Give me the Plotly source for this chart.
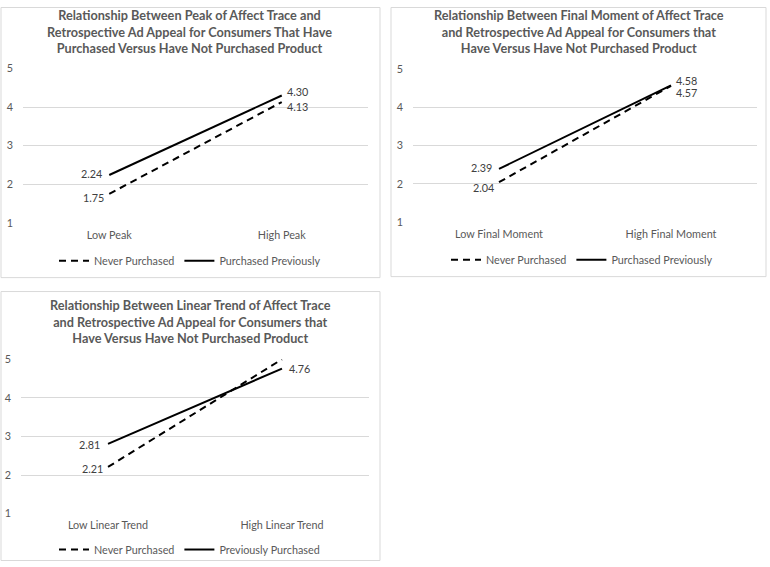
import plotly.graph_objects as go

# ---------------- data ----------------
titles = [
    "Relationship Between Peak of Affect Trace and<br>Retrospective Ad Appeal for Consumers That Have<br>Purchased Versus Have Not Purchased Product",
    "Relationship Between Final Moment of Affect Trace<br>and Retrospective Ad Appeal for Consumers that<br>Have Versus Have Not Purchased Product",
    "Relationship Between Linear Trend of Affect Trace<br>and Retrospective Ad Appeal for Consumers that<br>Have Versus Have Not Purchased Product",
]
categories1 = ["Low Peak", "High Peak"]
never1 = [1.75, 4.13]
prev1 = [2.24, 4.30]
categories2 = ["Low Final Moment", "High Final Moment"]
never2 = [2.04, 4.57]
prev2 = [2.39, 4.58]
categories3 = ["Low Linear Trend", "High Linear Trend"]
never3 = [2.21, 5.00]
prev3 = [2.81, 4.76]
never_names = ["Never Purchased", "Never Purchased", "Never Purchased"]
prev_names = ["Purchased Previously", "Purchased Previously", "Previously Purchased"]
show_never_labels = [[True, True], [True, True], [True, False]]
show_prev_labels = [[True, True], [True, True], [True, True]]
y_ticks = [1, 2, 3, 4, 5]

# ---------------- layout/style ----------------
W, H = 770, 567
# vertical compensation for how the page is photographed
Y_A, Y_B = 5.3, 0.981
def px(x):
    return x / W
def py(y):
    yf = (y - Y_A) / Y_B
    yf = min(max(yf, 0.5), H - 0.5)
    return 1 - yf / H

panels = [
    dict(cats=categories1, never=never1, prev=prev1,
         xdom=(23, 368), ydom=(222, 67), box=(1, 1, 380, 277),
         title_xy=(189, 30), legend_xy=(54, 260),
         never_shift=[(-3, -4), (3, -4)], prev_shift=[(-5, 1), (3, 4)]),
    dict(cats=categories2, never=never2, prev=prev2,
         xdom=(413, 757), ydom=(221, 68), box=(391, 1, 766, 276),
         title_xy=(579, 30), legend_xy=(446, 259),
         never_shift=[(-3, -5), (3, -7)], prev_shift=[(-5, 1), (3, 5)]),
    dict(cats=categories3, never=never3, prev=prev3,
         xdom=(21, 369), ydom=(514, 359), box=(1, 291, 380, 565),
         title_xy=(190, 321), legend_xy=(54, 550),
         never_shift=[(-3, -2), (3, 0)], prev_shift=[(-6, -1), (5, 0)]),
]

GRAY_TXT = "#595959"
LABEL_TXT = "#404040"
GRID = "#d9d9d9"
FONT = "Lato"
DASH = "7px,5px"
TXT = 10.8

fig = go.Figure()
layout = dict(
    width=W, height=H, margin=dict(l=0, r=0, t=0, b=0),
    paper_bgcolor="white", plot_bgcolor="white",
    font=dict(family=FONT, size=TXT, color=GRAY_TXT),
    showlegend=True,
)
annotations = []
shapes = []

for i, p in enumerate(panels):
    n = "" if i == 0 else str(i + 1)
    xa = "x" + n
    ya = "y" + n
    leg = "legend" + n
    fig.add_trace(go.Scatter(
        x=p["cats"], y=p["never"], mode="lines", name=never_names[i],
        line=dict(color="black", width=2, dash=DASH),
        xaxis=xa, yaxis=ya, legend=leg, cliponaxis=False, hoverinfo="skip"))
    fig.add_trace(go.Scatter(
        x=p["cats"], y=p["prev"], mode="lines", name=prev_names[i],
        line=dict(color="black", width=2),
        xaxis=xa, yaxis=ya, legend=leg, cliponaxis=False, hoverinfo="skip"))

    layout["xaxis" + n] = dict(
        domain=[px(p["xdom"][0]), px(p["xdom"][1])], range=[-0.5, 1.5],
        anchor=ya, showgrid=False, zeroline=False, showline=False,
        ticks="", tickfont=dict(size=TXT, color=GRAY_TXT, family=FONT),
        fixedrange=True, ticklabelstandoff=4)
    layout["yaxis" + n] = dict(
        domain=[py(p["ydom"][0]), py(p["ydom"][1])], range=[1, 5],
        anchor=xa, tickvals=y_ticks, showgrid=True, gridcolor=GRID,
        gridwidth=1, zeroline=False, showline=False, ticks="",
        tickfont=dict(size=TXT, color=GRAY_TXT, family=FONT),
        ticklabelstandoff=9, fixedrange=True)
    layout[leg] = dict(
        orientation="h", x=px(p["legend_xy"][0]), y=py(p["legend_xy"][1]),
        xanchor="left", yanchor="middle", bgcolor="rgba(0,0,0,0)",
        font=dict(size=TXT, color=GRAY_TXT, family=FONT),
        itemwidth=30, tracegroupgap=0, entrywidth=0)

    # data labels
    for series, shifts, flags in ((p["never"], p["never_shift"], show_never_labels[i]),
                                  (p["prev"], p["prev_shift"], show_prev_labels[i])):
        for j, (c, v) in enumerate(zip(p["cats"], series)):
            if not flags[j]:
                continue
            annotations.append(dict(
                x=c, y=v, xref=xa, yref=ya, text=f"{v:.2f}", showarrow=False,
                xanchor="right" if j == 0 else "left", yanchor="middle",
                xshift=shifts[j][0], yshift=shifts[j][1],
                font=dict(size=TXT, color=LABEL_TXT, family=FONT)))

    # title
    annotations.append(dict(
        x=px(p["title_xy"][0]), y=py(p["title_xy"][1]), xref="paper", yref="paper",
        text="<b>" + titles[i] + "</b>", showarrow=False, xanchor="center",
        yanchor="middle", align="center",
        font=dict(size=12.7, color=GRAY_TXT, family=FONT)))

    # panel border
    b = p["box"]
    shapes.append(dict(type="rect", xref="paper", yref="paper",
                       x0=px(b[0]), x1=px(b[2]), y0=py(b[3]), y1=py(b[1]),
                       line=dict(color=GRID, width=1), fillcolor="rgba(0,0,0,0)"))

layout["annotations"] = annotations
layout["shapes"] = shapes
fig.update_layout(**layout)

page_script = (
    "document.documentElement.style.margin='0';"
    "document.body.style.margin='0';"
    "document.body.style.overflow='hidden';"
)
fig.write_html("out.html", config={"displayModeBar": False}, post_script=page_script)
